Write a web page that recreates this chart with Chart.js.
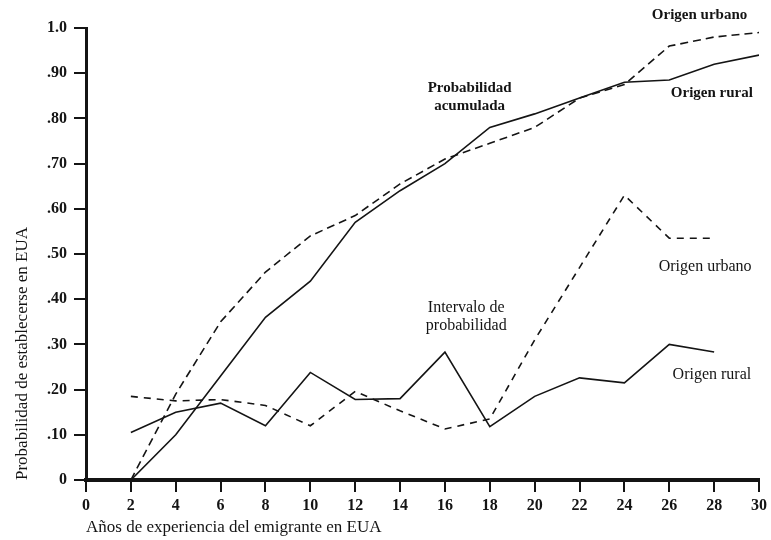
<!DOCTYPE html>
<html>
<head>
<meta charset="utf-8">
<title>Probabilidad de establecerse en EUA</title>
<script src="https://cdn.jsdelivr.net/npm/chart.js@4/dist/chart.umd.min.js"></script>
<style>
    body { margin: 0; background: #fff; }
    canvas { display: block; }
</style>
</head>
<body>
<canvas id="probChart" width="771" height="540"></canvas>
<script>
// Years of experience in the US
const years = [2, 4, 6, 8, 10, 12, 14, 16, 18, 20, 22, 24, 26, 28, 30];
const intervalYears = [2, 4, 6, 8, 10, 12, 14, 16, 18, 20, 22, 24, 26, 28];

// Cumulative probability
const cumRural = [0, 0.10, 0.23, 0.36, 0.44, 0.57, 0.64, 0.70, 0.78, 0.81, 0.845, 0.88, 0.885, 0.92, 0.94];
const cumUrban = [0, 0.19, 0.35, 0.46, 0.54, 0.585, 0.655, 0.71, 0.745, 0.78, 0.845, 0.875, 0.96, 0.98, 0.99];

// Interval probability
const intRural = [0.105, 0.15, 0.17, 0.12, 0.238, 0.178, 0.18, 0.283, 0.118, 0.185, 0.226, 0.215, 0.30, 0.283];
const intUrban = [0.185, 0.175, 0.178, 0.165, 0.12, 0.196, 0.153, 0.113, 0.135, 0.31, 0.47, 0.63, 0.535, 0.535];

// Axis tick labels
const yTickLabels = ['0', '.10', '.20', '.30', '.40', '.50', '.60', '.70', '.80', '.90', '1.0'];

const serif = '"Liberation Serif", "DejaVu Serif", serif';
const ink = '#141414';

// Text notes placed in data units
const notes = [
    { text: ['Origen urbano'], x: 27.35, y: 1.029, bold: true },
    { text: ['Probabilidad', 'acumulada'], x: 17.1, y: 0.848, bold: true },
    { text: ['Origen rural'], x: 27.9, y: 0.856, bold: true },
    { text: ['Origen urbano'], x: 27.6, y: 0.471, bold: false },
    { text: ['Intervalo de', 'probabilidad'], x: 16.95, y: 0.362, bold: false },
    { text: ['Origen rural'], x: 27.9, y: 0.233, bold: false }
];

function toPoints(xs, ys) {
    return xs.map((x, i) => ({ x: x, y: ys[i] }));
}

const notesPlugin = {
    id: 'notes',
    afterDraw(chart) {
        const ctx = chart.ctx;
        const xs = chart.scales.x;
        const ys = chart.scales.y;
        ctx.save();
        ctx.fillStyle = ink;
        ctx.textAlign = 'center';
        ctx.textBaseline = 'middle';
        notes.forEach(n => {
            ctx.font = (n.bold ? 'bold 15px ' : '16px ') + serif;
            const px = xs.getPixelForValue(n.x);
            const py = ys.getPixelForValue(n.y);
            const lh = 18;
            const top = py - (n.text.length - 1) * lh / 2;
            n.text.forEach((t, i) => ctx.fillText(t, px, top + i * lh));
        });
        ctx.restore();
    }
};

function lineSet(label, xs, ys, dash) {
    return {
        label: label,
        data: toPoints(xs, ys),
        borderColor: ink,
        borderWidth: 1.6,
        borderDash: dash,
        pointRadius: 0,
        tension: 0,
        fill: false
    };
}

const ctx = document.getElementById('probChart').getContext('2d');
new Chart(ctx, {
    type: 'line',
    data: {
        datasets: [
            lineSet('Acumulada rural', years, cumRural, []),
            lineSet('Acumulada urbano', years, cumUrban, [8, 5]),
            lineSet('Intervalo rural', intervalYears, intRural, []),
            lineSet('Intervalo urbano', intervalYears, intUrban, [7, 6])
        ]
    },
    options: {
        responsive: false,
        animation: false,
        layout: { padding: { left: 0, right: 6, top: 28, bottom: 0 } },
        plugins: {
            legend: { display: false },
            tooltip: { enabled: false }
        },
        scales: {
            x: {
                type: 'linear',
                min: 0,
                max: 30,
                afterFit: scale => { scale.height = 60; },
                border: { display: true, color: ink, width: 4 },
                grid: { drawOnChartArea: false, drawTicks: true, tickLength: 12, lineWidth: 2, color: ink },
                ticks: {
                    stepSize: 2,
                    padding: 4,
                    color: ink,
                    font: { family: serif, size: 16, weight: 'bold' }
                },
                title: {
                    display: true,
                    text: 'Años de experiencia del emigrante en EUA',
                    align: 'start',
                    color: ink,
                    font: { family: serif, size: 17 },
                    padding: { top: 0, bottom: 2 }
                }
            },
            y: {
                min: 0,
                max: 1,
                afterFit: scale => { scale.width = 86; },
                border: { display: true, color: ink, width: 3 },
                grid: { drawOnChartArea: false, drawTicks: true, tickLength: 12, lineWidth: 2, color: ink },
                ticks: {
                    stepSize: 0.1,
                    padding: 7,
                    color: ink,
                    font: { family: serif, size: 16, weight: 'bold' },
                    callback: (value, index) => yTickLabels[index]
                },
                title: {
                    display: true,
                    text: 'Probabilidad de establecerse en EUA',
                    align: 'start',
                    color: ink,
                    font: { family: serif, size: 17 },
                    padding: { top: 12, bottom: 0 }
                }
            }
        }
    },
    plugins: [notesPlugin]
});
</script>
</body>
</html>
